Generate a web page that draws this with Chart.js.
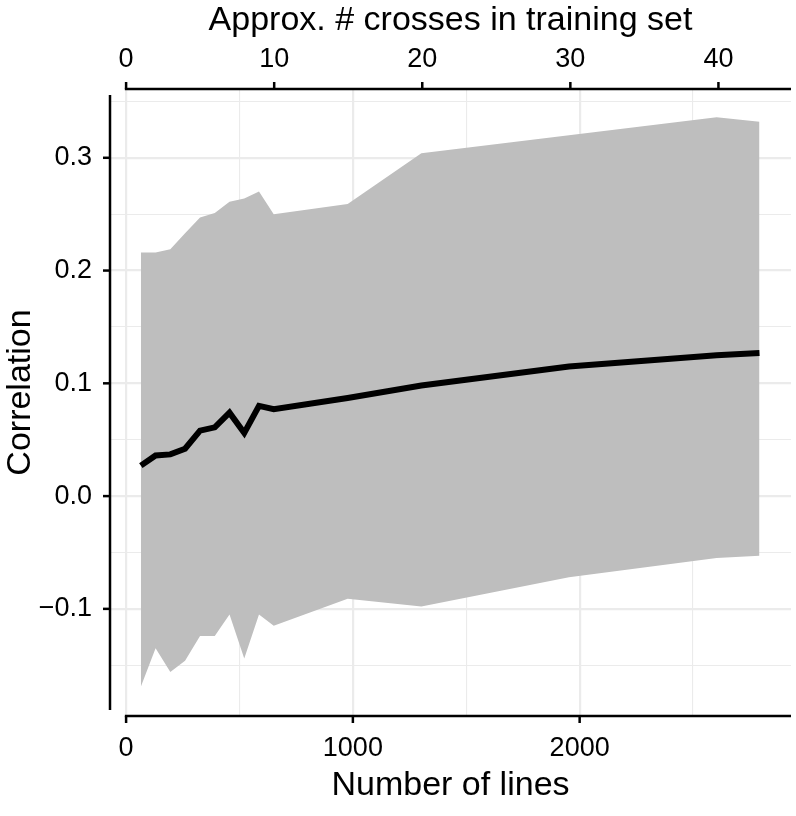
<!DOCTYPE html>
<html lang="en">
<head>
  <meta charset="UTF-8" />
  <title>Correlation vs number of lines</title>
  <script src="https://cdn.jsdelivr.net/npm/chart.js"></script>
  <style>
    html, body {
      margin: 0;
      padding: 0;
      background: #fff;
    }
    #wrap {
      width: 796px;
      height: 816px;
    }
  </style>
</head>
<body>
  <div id="wrap"><canvas id="corrChart" width="796" height="816"></canvas></div>

  <script>
    // number of lines in the training set (x), mean correlation and ribbon bounds
    const nLines = [65, 130, 195, 260, 326, 391, 456, 521, 586, 651, 977, 1302, 1953, 2604, 2793];
    const corrMean = [0.027, 0.036, 0.037, 0.042, 0.058, 0.061, 0.074, 0.056, 0.080, 0.077, 0.087, 0.098, 0.115, 0.125, 0.127];
    const corrUpper = [0.216, 0.216, 0.219, 0.233, 0.247, 0.251, 0.261, 0.264, 0.270, 0.250, 0.259, 0.304, 0.320, 0.336, 0.332];
    const corrLower = [-0.169, -0.135, -0.156, -0.146, -0.124, -0.124, -0.105, -0.144, -0.105, -0.115, -0.091, -0.098, -0.072, -0.055, -0.053];

    // tick labels and grid positions
    const lineTicks = [0, 1000, 2000];
    const lineGrid = [0, 500, 1000, 1500, 2000, 2500];
    const crossTicks = [0, 10, 20, 30, 40];
    const corrTicks = [-0.1, 0.0, 0.1, 0.2, 0.3];

    const linesPerCross = 65.3;
    const xMin = -71, xMax = 2932;
    const yMin = -0.195, yMax = 0.361;

    const FONT = "'Liberation Sans', Arial, Helvetica, sans-serif";
    const GRID = '#ebebeb';

    const pts = ys => nLines.map((x, i) => ({ x: x, y: ys[i] }));
    const near = (v, list) => list.some(t => Math.abs(t - v) < 1e-6);

    // ggplot style axis lines that stop at the first break, plus the y title
    const cappedAxes = {
      id: 'cappedAxes',
      afterDraw(chart) {
        const { ctx, chartArea: a, scales } = chart;
        const seg = (x1, y1, x2, y2) => {
          ctx.beginPath();
          ctx.moveTo(x1, y1);
          ctx.lineTo(x2, y2);
          ctx.stroke();
        };
        ctx.save();
        ctx.strokeStyle = '#000';
        ctx.lineWidth = 2.5;
        ctx.lineCap = 'butt';

        seg(scales.x.getPixelForValue(0) - 1.25, a.bottom, a.right, a.bottom);
        lineTicks.forEach(v => {
          const px = scales.x.getPixelForValue(v);
          seg(px, a.bottom, px, a.bottom + 7);
        });

        seg(scales.x2.getPixelForValue(0) - 1.25, a.top, a.right, a.top);
        crossTicks.forEach(v => {
          const px = scales.x2.getPixelForValue(v);
          seg(px, a.top, px, a.top - 7);
        });

        seg(a.left, a.top + 6, a.left, a.bottom - 6);
        corrTicks.forEach(v => {
          const py = scales.y.getPixelForValue(v);
          seg(a.left, py, a.left - 7, py);
        });

        // y title sits a bit above the panel centre in the original
        ctx.translate(21, (a.top + a.bottom) / 2 - 10);
        ctx.rotate(-Math.PI / 2);
        ctx.fillStyle = '#000';
        ctx.font = '34px ' + FONT;
        ctx.textAlign = 'center';
        ctx.textBaseline = 'middle';
        ctx.fillText('Correlation', 0, 0);
        ctx.restore();
      }
    };

    const ctx = document.getElementById('corrChart').getContext('2d');
    const chart = new Chart(ctx, {
      type: 'line',
      data: {
        datasets: [
          {
            label: 'Mean',
            data: pts(corrMean),
            borderColor: '#000',
            borderWidth: 6,
            borderJoinStyle: 'miter',
            pointRadius: 0,
            fill: false,
            tension: 0
          },
          {
            label: 'Upper',
            data: pts(corrUpper),
            borderWidth: 0,
            borderColor: 'rgba(0,0,0,0)',
            backgroundColor: '#bebebe',
            pointRadius: 0,
            fill: '+1',
            tension: 0
          },
          {
            label: 'Lower',
            data: pts(corrLower),
            borderWidth: 0,
            borderColor: 'rgba(0,0,0,0)',
            backgroundColor: '#bebebe',
            pointRadius: 0,
            fill: false,
            tension: 0
          }
        ]
      },
      options: {
        responsive: false,
        animation: false,
        layout: { padding: { left: 0, right: 5, top: 0, bottom: 0 } },
        plugins: {
          legend: { display: false },
          tooltip: { enabled: false }
        },
        scales: {
          x: {
            type: 'linear',
            position: 'bottom',
            min: xMin,
            max: xMax,
            afterBuildTicks: s => { s.ticks = lineGrid.map(v => ({ value: v })); },
            afterFit: s => { s.height = 100; },
            border: { display: false },
            grid: {
              color: GRID,
              drawTicks: false,
              lineWidth: c => near(c.tick.value, lineTicks) ? 2.2 : 1.1
            },
            ticks: {
              autoSkip: false,
              maxRotation: 0,
              padding: 16,
              color: '#000',
              font: { family: FONT, size: 27 },
              callback: v => near(v, lineTicks) ? String(v) : ''
            },
            title: {
              display: true,
              text: 'Number of lines',
              color: '#000',
              font: { family: FONT, size: 34 },
              padding: { top: 0, bottom: 10 }
            }
          },
          x2: {
            type: 'linear',
            axis: 'x',
            position: 'top',
            min: xMin / linesPerCross,
            max: xMax / linesPerCross,
            afterFit: s => { s.height = 89; },
            border: { display: false },
            grid: { display: false, drawTicks: false },
            ticks: {
              stepSize: 10,
              includeBounds: false,
              autoSkip: false,
              maxRotation: 0,
              padding: 13,
              color: '#000',
              font: { family: FONT, size: 27 },
              callback: v => near(v, crossTicks) ? String(v) : ''
            },
            title: {
              display: true,
              text: 'Approx. # crosses in training set',
              color: '#000',
              font: { family: FONT, size: 34 },
              padding: { top: 0, bottom: 0 }
            }
          },
          y: {
            type: 'linear',
            min: yMin,
            max: yMax,
            afterFit: s => { s.width = 110; },
            border: { display: false },
            grid: {
              color: GRID,
              drawTicks: false,
              lineWidth: c => near(c.tick.value, corrTicks) ? 2.2 : 1.1
            },
            ticks: {
              stepSize: 0.05,
              includeBounds: false,
              autoSkip: false,
              padding: 18,
              color: '#000',
              font: { family: FONT, size: 27 },
              callback: v => near(v, corrTicks) ? v.toFixed(1).replace('-', '\u2212') : ''
            },
            title: { display: false }
          }
        }
      },
      plugins: [cappedAxes]
    });
  </script>
</body>
</html>
